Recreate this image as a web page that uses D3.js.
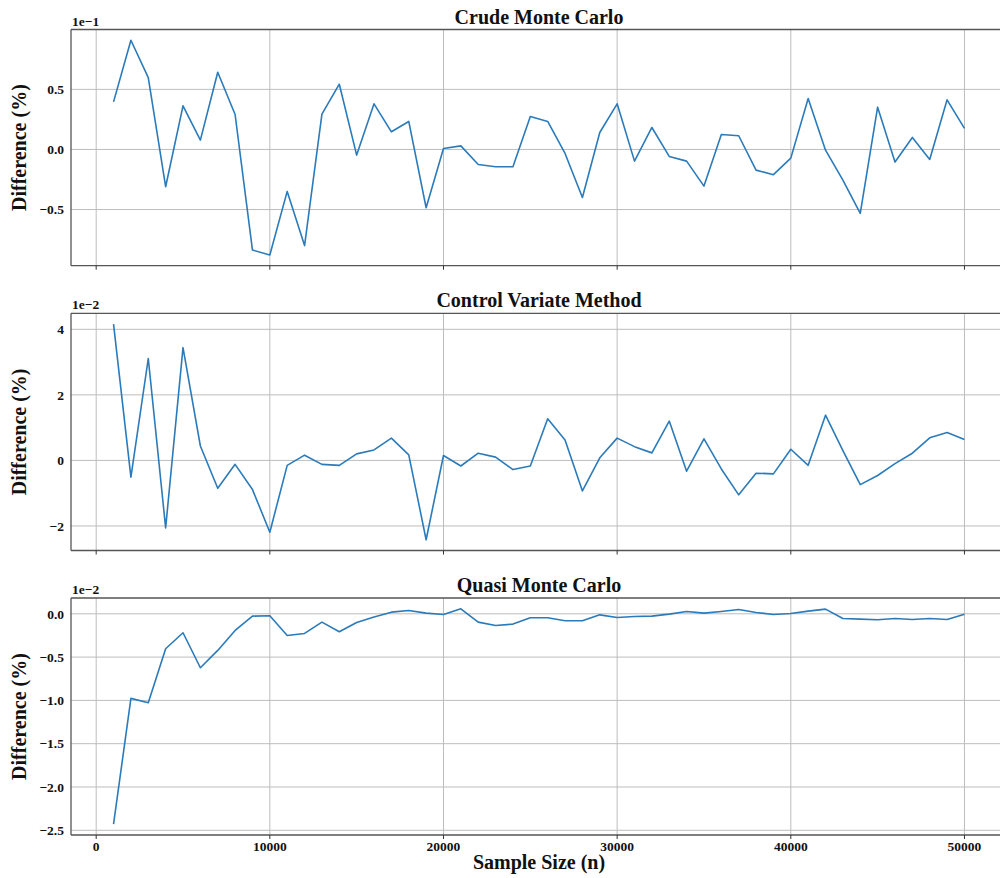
<!DOCTYPE html>
<html>
<head>
<meta charset="utf-8">
<script src="https://cdn.jsdelivr.net/npm/d3@7"></script>
<style>
  html, body { margin: 0; padding: 0; background: #fff; }
  svg { display: block; font-family: "Liberation Serif", "Times New Roman", serif; font-weight: bold; }
</style>
</head>
<body>
<svg id="chart" width="1000" height="878"></svg>
<script>
// Sample sizes n = 1000 .. 50000
const sampleSizes = [
  1000, 2000, 3000, 4000, 5000, 6000, 7000, 8000, 9000, 10000,
  11000, 12000, 13000, 14000, 15000, 16000, 17000, 18000, 19000, 20000,
  21000, 22000, 23000, 24000, 25000, 26000, 27000, 28000, 29000, 30000,
  31000, 32000, 33000, 34000, 35000, 36000, 37000, 38000, 39000, 40000,
  41000, 42000, 43000, 44000, 45000, 46000, 47000, 48000, 49000, 50000
];

// Difference (%) in units of 1e-1
const crudeMC = [
  0.396, 0.909, 0.598, -0.31, 0.363, 0.078, 0.643, 0.291, -0.837, -0.878,
  -0.349, -0.80, 0.294, 0.543, -0.047, 0.38, 0.147, 0.233, -0.485, 0.008,
  0.03, -0.125, -0.144, -0.144, 0.274, 0.233, -0.033, -0.40, 0.141, 0.38,
  -0.097, 0.183, -0.058, -0.097, -0.305, 0.125, 0.114, -0.172, -0.21, -0.072,
  0.424, -0.006, -0.255, -0.532, 0.352, -0.105, 0.10, -0.083, 0.413, 0.175
];

// Difference (%) in units of 1e-2
const controlVariate = [
  4.16, -0.51, 3.11, -2.06, 3.44, 0.44, -0.85, -0.12, -0.89, -2.19,
  -0.15, 0.16, -0.12, -0.15, 0.20, 0.32, 0.68, 0.17, -2.42, 0.15,
  -0.17, 0.22, 0.10, -0.28, -0.17, 1.27, 0.62, -0.93, 0.08, 0.68,
  0.42, 0.23, 1.20, -0.33, 0.66, -0.26, -1.05, -0.39, -0.41, 0.34,
  -0.15, 1.38, 0.30, -0.74, -0.46, -0.10, 0.22, 0.69, 0.85, 0.64
];

// Difference (%) in units of 1e-2
const quasiMC = [
  -2.43, -0.977, -1.027, -0.404, -0.219, -0.623, -0.423, -0.192, -0.027, -0.023,
  -0.25, -0.227, -0.096, -0.208, -0.10, -0.038, 0.019, 0.038, 0.008, -0.008,
  0.058, -0.096, -0.135, -0.119, -0.046, -0.046, -0.081, -0.081, -0.012, -0.042,
  -0.031, -0.027, -0.004, 0.027, 0.008, 0.027, 0.05, 0.015, -0.008, 0.004,
  0.031, 0.054, -0.054, -0.062, -0.069, -0.054, -0.065, -0.054, -0.065, -0.004
];

const titles = ["Crude Monte Carlo", "Control Variate Method", "Quasi Monte Carlo"];
const offsetLabels = ["1e\u22121", "1e\u22122", "1e\u22122"];
const yTicks = [
  [-0.5, 0.0, 0.5],
  [-2, 0, 2, 4],
  [-2.5, -2.0, -1.5, -1.0, -0.5, 0.0]
];
const yTickFormats = [".1f", "d", ".1f"];
const xTicks = [0, 10000, 20000, 30000, 40000, 50000];
const xLabel = "Sample Size (n)";
const yLabel = "Difference (%)";

const seriesList = [crudeMC, controlVariate, quasiMC];

// Layout of the three stacked axes
const panelBoxes = [
  { top: 29.5, bottom: 265.7 },
  { top: 313.3, bottom: 550.5 },
  { top: 598.0, bottom: 835.0 }
];
const axLeft = 71, axRight = 1007;
const lineColor = "#2b7bba";

const svg = d3.select("#chart");
svg.append("rect").attr("width", 1000).attr("height", 878).attr("fill", "#fff");

// matplotlib-style 5% margins
function padded(ext) {
  const m = (ext[1] - ext[0]) * 0.05;
  return [ext[0] - m, ext[1] + m];
}

const x = d3.scaleLinear()
  .domain(padded(d3.extent(sampleSizes)))
  .range([axLeft, axRight]);

const minusify = s => s.replace(/-/g, "\u2212");

seriesList.forEach((vals, i) => {
  const box = panelBoxes[i];
  const y = d3.scaleLinear()
    .domain(padded(d3.extent(vals)))
    .range([box.bottom, box.top]);

  const g = svg.append("g");

  // grid
  g.append("g").selectAll("line.vg").data(xTicks).join("line")
    .attr("x1", d => x(d)).attr("x2", d => x(d))
    .attr("y1", box.top).attr("y2", box.bottom)
    .attr("stroke", "#bdbdbd").attr("stroke-width", 1);
  g.append("g").selectAll("line.hg").data(yTicks[i]).join("line")
    .attr("x1", axLeft).attr("x2", axRight)
    .attr("y1", d => y(d)).attr("y2", d => y(d))
    .attr("stroke", "#bdbdbd").attr("stroke-width", 1);

  // series line
  const line = d3.line()
    .x((d, k) => x(sampleSizes[k]))
    .y(d => y(d));
  g.append("path")
    .datum(vals)
    .attr("d", line)
    .attr("fill", "none")
    .attr("stroke", lineColor)
    .attr("stroke-width", 1.6)
    .attr("stroke-linejoin", "round");

  // spines
  g.append("line").attr("x1", axLeft).attr("x2", axRight)
    .attr("y1", box.top).attr("y2", box.top)
    .attr("stroke", "#555").attr("stroke-width", 1.3);
  g.append("line").attr("x1", axLeft).attr("x2", axRight)
    .attr("y1", box.bottom).attr("y2", box.bottom)
    .attr("stroke", "#555").attr("stroke-width", 1.3);
  g.append("line").attr("x1", axLeft).attr("x2", axLeft)
    .attr("y1", box.top).attr("y2", box.bottom)
    .attr("stroke", "#555").attr("stroke-width", 1.3);

  // x tick marks
  g.append("g").selectAll("line.xt").data(xTicks).join("line")
    .attr("x1", d => x(d)).attr("x2", d => x(d))
    .attr("y1", box.bottom).attr("y2", box.bottom + 4)
    .attr("stroke", "#333").attr("stroke-width", 1);

  // y tick labels
  const fmt = d3.format(yTickFormats[i]);
  g.append("g").selectAll("text.yt").data(yTicks[i]).join("text")
    .attr("x", 64).attr("y", d => y(d))
    .attr("dy", "0.35em")
    .attr("text-anchor", "end")
    .attr("font-size", 13.5)
    .attr("fill", "#111")
    .text(d => minusify(fmt(d)));

  // offset label
  g.append("text")
    .attr("x", 72).attr("y", box.top - 4)
    .attr("font-size", 13.5)
    .attr("fill", "#111")
    .text(offsetLabels[i]);

  // title
  g.append("text")
    .attr("x", (axLeft + axRight) / 2).attr("y", box.top - 6)
    .attr("text-anchor", "middle")
    .attr("font-size", 20)
    .attr("fill", "#111")
    .text(titles[i]);

  // y label
  const cy = (box.top + box.bottom) / 2;
  g.append("text")
    .attr("transform", `translate(26,${cy}) rotate(-90)`)
    .attr("text-anchor", "middle")
    .attr("font-size", 20)
    .attr("fill", "#111")
    .text(yLabel);

  // x tick labels only on the bottom panel
  if (i === seriesList.length - 1) {
    g.append("g").selectAll("text.xt").data(xTicks).join("text")
      .attr("x", d => x(d)).attr("y", box.bottom + 16)
      .attr("text-anchor", "middle")
      .attr("font-size", 13.5)
      .attr("fill", "#111")
      .text(d => d3.format("d")(d));
    g.append("text")
      .attr("x", (axLeft + axRight) / 2).attr("y", 869)
      .attr("text-anchor", "middle")
      .attr("font-size", 20)
      .attr("fill", "#111")
      .text(xLabel);
  }
});
</script>
</body>
</html>
